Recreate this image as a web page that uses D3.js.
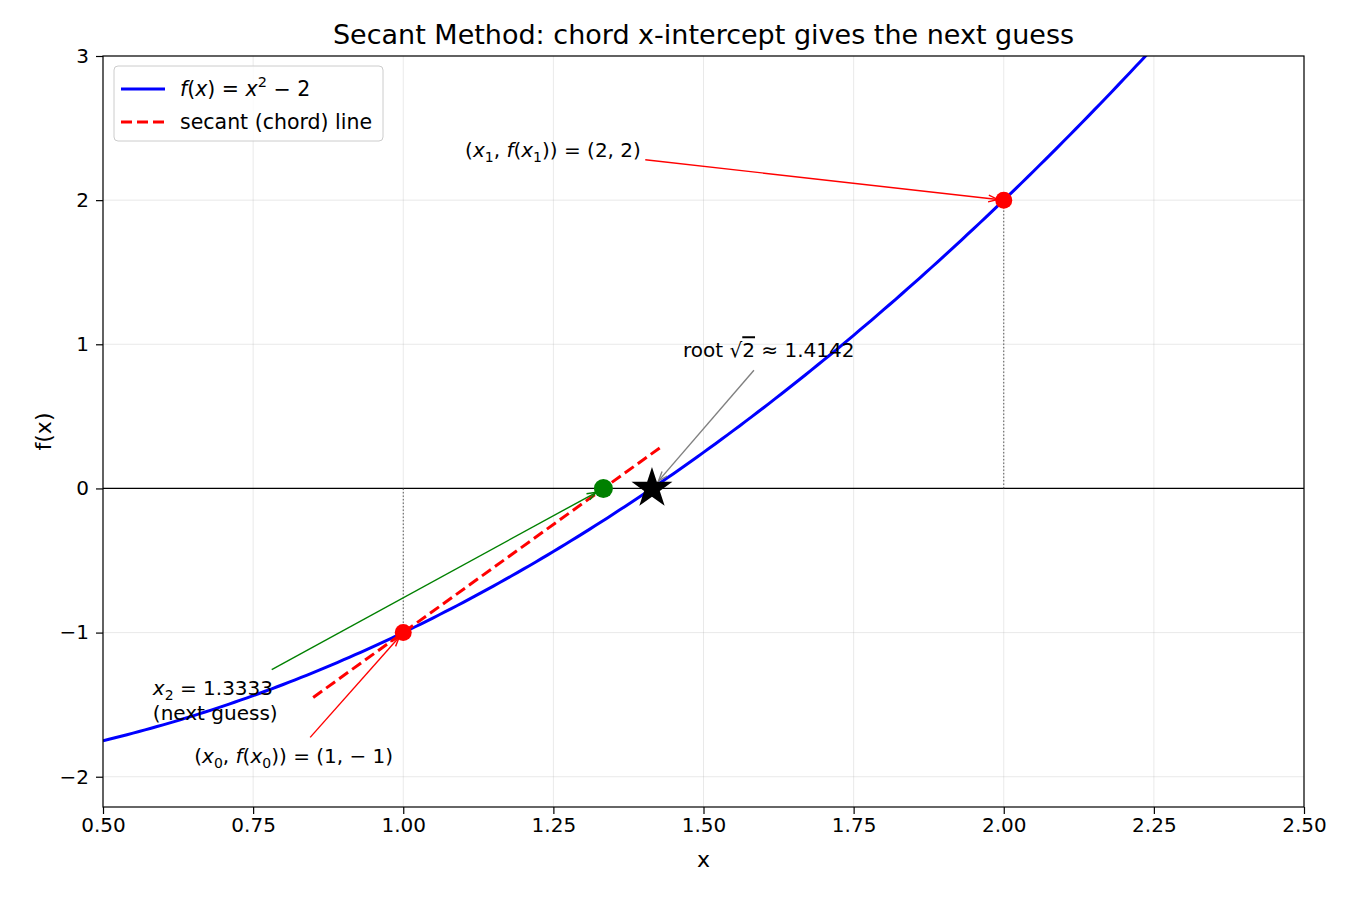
<html lang="en">
<head>
<meta charset="utf-8">
<title>Secant Method</title>
<script src="https://d3js.org/d3.v7.min.js"></script>
<style>
  body { margin: 0; background: #fff; }
  text { font-family: "DejaVu Sans", sans-serif; }
  .grid line { stroke: #b0b0b0; stroke-opacity: 0.35; stroke-width: 0.8; }
  .tick text { font-size: 20px; fill: #000; font-family: "DejaVu Sans", sans-serif; }
</style>
</head>
<body>
<svg id="chart"></svg>
<script>
// axis ranges and ticks
var xDomain = [0.5, 2.5];
var yDomain = [-2.21, 3];
var xTicks = [0.5, 0.75, 1.0, 1.25, 1.5, 1.75, 2.0, 2.25, 2.5];
var yTicks = [-2, -1, 0, 1, 2, 3];

// secant iteration points
var x0 = 1, fx0 = -1;
var x1 = 2, fx1 = 2;
var x2 = 1.3333;
var root = 1.4142;

// secant line drawn from x0 - 0.15 to x2 + 0.1
var secantX = [0.85, 1.4333];

// annotation text anchors and arrow tails (data coords)
var annText = [
  {id: "p1", tx: 1.103, ty: 2.3},
  {id: "root", tx: 1.466, ty: 0.91},
  {id: "x2", tx: 0.583, ty: -1.43},
  {id: "p0", tx: 0.652, ty: -1.905}
];
var annArrows = [
  {from: [1.403, 2.28], to: [x1, fx1], color: "red", shrink: 6},
  {from: [1.584, 0.82], to: [root, 0], color: "gray", shrink: 10},
  {from: [0.781, -1.257], to: [x2, 0], color: "green", shrink: 8},
  {from: [0.845, -1.727], to: [x0, fx0], color: "red", shrink: 6}
];

var config = {w: 1350, h: 900, left: 103, right: 1304, top: 56, bottom: 807};

var svg = d3.select("#chart").attr("width", config.w).attr("height", config.h);

var x = d3.scaleLinear().domain(xDomain).range([config.left, config.right]);
var y = d3.scaleLinear().domain(yDomain).range([config.bottom, config.top]);

function f(v) { return v * v - 2; }

svg.append("defs").append("clipPath").attr("id", "clip")
  .append("rect")
  .attr("x", config.left).attr("y", config.top)
  .attr("width", config.right - config.left)
  .attr("height", config.bottom - config.top);

// grid
var grid = svg.append("g").attr("class", "grid");
grid.selectAll("line.vx").data(xTicks).enter().append("line")
  .attr("x1", x).attr("x2", x)
  .attr("y1", config.top).attr("y2", config.bottom);
grid.selectAll("line.hy").data(yTicks).enter().append("line")
  .attr("x1", config.left).attr("x2", config.right)
  .attr("y1", y).attr("y2", y);

// axes
var fmtMinus = function(s) { return String(s).replace("-", "\u2212"); };
var xAxis = svg.append("g")
  .attr("transform", "translate(0," + config.bottom + ")")
  .call(d3.axisBottom(x).tickValues(xTicks).tickFormat(d3.format(".2f")).tickSizeOuter(0).tickSize(7).tickPadding(4));
var yAxis = svg.append("g")
  .attr("transform", "translate(" + config.left + ",0)")
  .call(d3.axisLeft(y).tickValues(yTicks).tickFormat(function(d) { return fmtMinus(d); }).tickSizeOuter(0).tickSize(7).tickPadding(7));
[xAxis, yAxis].forEach(function(a) {
  a.select(".domain").remove();
  a.selectAll(".tick line").attr("stroke", "#000").attr("stroke-width", 1.2);
});

var plot = svg.append("g").attr("clip-path", "url(#clip)");

// y = 0 line
plot.append("line")
  .attr("x1", config.left).attr("x2", config.right)
  .attr("y1", y(0)).attr("y2", y(0))
  .attr("stroke", "#000").attr("stroke-width", 1.2);

// dotted verticals
[[x0, fx0], [x1, fx1]].forEach(function(p) {
  plot.append("line")
    .attr("x1", x(p[0])).attr("x2", x(p[0]))
    .attr("y1", y(0)).attr("y2", y(p[1]))
    .attr("stroke", "#555").attr("stroke-width", 1)
    .attr("stroke-dasharray", "1.5,2");
});

// curve
var curveX = d3.range(xDomain[0], xDomain[1] + 0.0001, 0.01);
var line = d3.line().x(function(d) { return x(d); }).y(function(d) { return y(f(d)); });
plot.append("path").datum(curveX)
  .attr("d", line)
  .attr("fill", "none").attr("stroke", "blue").attr("stroke-width", 3);

// secant line
var slope = (fx1 - fx0) / (x1 - x0);
var secant = d3.line().x(function(d) { return x(d); }).y(function(d) { return y(fx0 + slope * (d - x0)); });
plot.append("path").datum(secantX)
  .attr("d", secant)
  .attr("fill", "none").attr("stroke", "red").attr("stroke-width", 3)
  .attr("stroke-dasharray", "11,5");

// arrows
function drawArrow(a) {
  var sx = x(a.from[0]), sy = y(a.from[1]);
  var tx = x(a.to[0]), ty = y(a.to[1]);
  var dx = tx - sx, dy = ty - sy, len = Math.sqrt(dx * dx + dy * dy);
  var ux = dx / len, uy = dy / len;
  var ex = tx - ux * a.shrink, ey = ty - uy * a.shrink;
  var g = svg.append("g").attr("stroke", a.color).attr("stroke-width", 1.4).attr("fill", "none");
  g.append("line").attr("x1", sx).attr("y1", sy).attr("x2", ex).attr("y2", ey);
  var hl = 10, ang = 0.35;
  var back = Math.atan2(-uy, -ux);
  var pts = [back - ang, back + ang].map(function(t) {
    return [ex + hl * Math.cos(t), ey + hl * Math.sin(t)];
  });
  g.append("path").attr("d", "M" + pts[0] + "L" + ex + "," + ey + "L" + pts[1]);
}
annArrows.forEach(drawArrow);

// markers
svg.append("circle").attr("cx", x(x0)).attr("cy", y(fx0)).attr("r", 8.5).attr("fill", "red");
svg.append("circle").attr("cx", x(x1)).attr("cy", y(fx1)).attr("r", 8.5).attr("fill", "red");
svg.append("circle").attr("cx", x(x2)).attr("cy", y(0)).attr("r", 9.5).attr("fill", "green");
svg.append("path")
  .attr("d", d3.symbol().type(d3.symbolStar).size(520)())
  .attr("transform", "translate(" + x(root) + "," + y(0) + ")")
  .attr("fill", "black");

// frame
svg.append("rect")
  .attr("x", config.left).attr("y", config.top)
  .attr("width", config.right - config.left).attr("height", config.bottom - config.top)
  .attr("fill", "none").attr("stroke", "#000").attr("stroke-width", 1.2);

// annotation texts
var fs = 20;
function ann(id) { return annText.filter(function(a) { return a.id === id; })[0]; }
function it(t, s) { return t.append("tspan").attr("font-style", "italic").text(s); }
// subscript; the following tspan gets dy back
function sub(t, s) { t.append("tspan").attr("font-size", fs * 0.7).attr("dy", 5).text(s); }
function up(t, s) { return t.append("tspan").attr("dy", -5).text(s); }

var a = ann("p1");
var t = svg.append("text").attr("x", x(a.tx)).attr("y", y(a.ty)).attr("font-size", fs);
t.append("tspan").text("(");
it(t, "x"); sub(t, "1");
up(t, ", ");
it(t, "f"); t.append("tspan").text("(");
it(t, "x"); sub(t, "1");
up(t, ")) = (2, 2)");

a = ann("p0");
t = svg.append("text").attr("x", x(a.tx)).attr("y", y(a.ty)).attr("font-size", fs);
t.append("tspan").text("(");
it(t, "x"); sub(t, "0");
up(t, ", ");
it(t, "f"); t.append("tspan").text("(");
it(t, "x"); sub(t, "0");
up(t, ")) = (1, \u2212 1)");

a = ann("root");
t = svg.append("text").attr("x", x(a.tx)).attr("y", y(a.ty)).attr("font-size", fs);
t.append("tspan").text("root \u221A");
t.append("tspan").attr("text-decoration", "overline").text("2");
t.append("tspan").text(" \u2248 1.4142");

a = ann("x2");
t = svg.append("text").attr("x", x(a.tx)).attr("y", y(a.ty)).attr("font-size", fs);
it(t, "x"); sub(t, "2");
up(t, " = 1.3333");
svg.append("text").attr("x", x(a.tx)).attr("y", y(a.ty) + 25).attr("font-size", fs).text("(next guess)");

// legend
var lg = svg.append("g").attr("transform", "translate(114,66)");
lg.append("rect").attr("width", 269).attr("height", 75).attr("rx", 4)
  .attr("fill", "#fff").attr("fill-opacity", 0.8).attr("stroke", "#ccc");
lg.append("line").attr("x1", 7).attr("x2", 51).attr("y1", 23).attr("y2", 23)
  .attr("stroke", "blue").attr("stroke-width", 3);
lg.append("line").attr("x1", 7).attr("x2", 51).attr("y1", 56).attr("y2", 56)
  .attr("stroke", "red").attr("stroke-width", 3).attr("stroke-dasharray", "11,5");
t = lg.append("text").attr("x", 66).attr("y", 30).attr("font-size", 20.5);
it(t, "f"); t.append("tspan").text("(");
it(t, "x"); t.append("tspan").text(") = ");
it(t, "x");
t.append("tspan").attr("font-size", 14.5).attr("dy", -9).text("2");
t.append("tspan").attr("dy", 9).text(" \u2212 2");
lg.append("text").attr("x", 66).attr("y", 63).attr("font-size", 20.5).text("secant (chord) line");

// titles
svg.append("text").attr("x", (config.left + config.right) / 2).attr("y", 44)
  .attr("text-anchor", "middle").attr("font-size", 27).text("Secant Method: chord x-intercept gives the next guess");
svg.append("text").attr("x", (config.left + config.right) / 2).attr("y", 867)
  .attr("text-anchor", "middle").attr("font-size", 22).text("x");
svg.append("text").attr("transform", "translate(51," + (config.top + config.bottom) / 2 + ") rotate(-90)")
  .attr("text-anchor", "middle").attr("font-size", 22).text("f(x)");
</script>
</body>
</html>
